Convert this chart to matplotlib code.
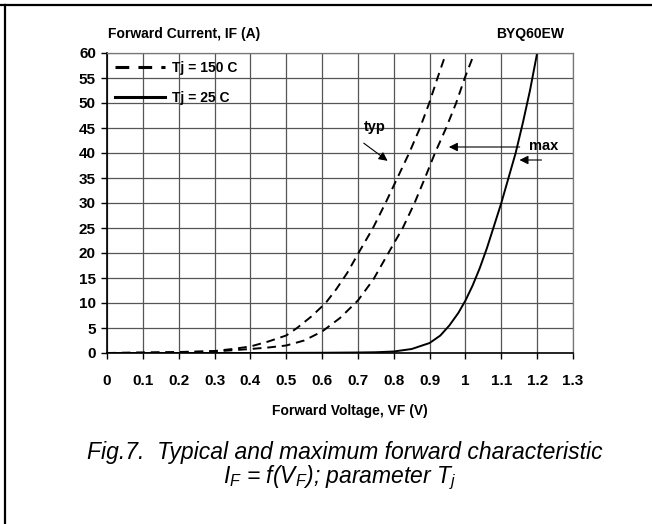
import numpy as np
import matplotlib
matplotlib.use('Agg')
import matplotlib.pyplot as plt
from matplotlib.lines import Line2D

plt.rcParams['font.family'] = ['Liberation Sans', 'DejaVu Sans']
plt.rcParams['mathtext.fontset'] = 'custom'
plt.rcParams['mathtext.it'] = 'Liberation Sans:italic'
plt.rcParams['mathtext.rm'] = 'Liberation Sans:italic'

# Tj = 150 C, typical
vf_typ150 = [0, 0.1, 0.2, 0.3, 0.35, 0.4, 0.45, 0.5, 0.53, 0.57, 0.61, 0.64, 0.67,
             0.70, 0.742, 0.777, 0.810, 0.843, 0.873, 0.899, 0.922, 0.946]
if_typ150 = [0, 0.1, 0.2, 0.4, 0.8, 1.3, 2.3, 3.5, 5, 7.3, 10, 12.8, 16,
             19.8, 25, 30, 35, 40, 45, 50, 55, 60]
# Tj = 150 C, maximum
vf_max150 = [0, 0.1, 0.2, 0.3, 0.4, 0.45, 0.5, 0.55, 0.6, 0.65, 0.7, 0.743,
             0.785, 0.825, 0.858, 0.887, 0.915, 0.946, 0.974, 0.998, 1.025]
if_max150 = [0, 0.05, 0.1, 0.3, 0.8, 1.1, 1.5, 2.5, 4.3, 7, 10.5, 14.7,
             20, 25, 30, 35, 40, 45, 50, 55, 60]
# Tj = 25 C
vf_25 = [0, 0.2, 0.4, 0.6, 0.7, 0.75, 0.8, 0.85, 0.9, 0.93, 0.955, 0.98, 1.0,
         1.02, 1.04, 1.06, 1.08, 1.10, 1.12, 1.14, 1.16, 1.18, 1.2]
if_25 = [0, 0, 0, 0.05, 0.1, 0.15, 0.3, 0.8, 2, 3.5, 5.5, 8, 10.5,
         13.5, 17, 21, 25.5, 30, 35, 40, 46, 52.5, 60]

x_ticks = [0, 0.1, 0.2, 0.3, 0.4, 0.5, 0.6, 0.7, 0.8, 0.9, 1, 1.1, 1.2, 1.3]
x_labels = ['0', '0.1', '0.2', '0.3', '0.4', '0.5', '0.6', '0.7', '0.8', '0.9',
            '1', '1.1', '1.2', '1.3']
y_ticks = list(range(0, 61, 5))

W, H = 652, 524
fig = plt.figure(figsize=(W / 100, H / 100), dpi=100)
ax = fig.add_axes([107 / W, 1 - 353 / H, (573 - 107) / W, 300 / H])

ax.plot(vf_typ150, if_typ150, color='black', lw=1.4, dashes=(4.5, 3), label='Tj = 150 C')
ax.plot(vf_max150, if_max150, color='black', lw=1.4, dashes=(4.5, 3))
ax.plot(vf_25, if_25, color='black', lw=1.4, label='Tj = 25 C')

ax.set_xlim(0, 1.3)
ax.set_ylim(0, 60)
ax.set_xticks(x_ticks)
ax.set_xticklabels(x_labels)
ax.set_yticks(y_ticks)
ax.grid(True, color='#555555', lw=0.9)
ax.set_axisbelow(True)
for lab in ax.get_xticklabels() + ax.get_yticklabels():
    lab.set_fontweight('bold')
    lab.set_fontsize(11)
ax.tick_params(axis='x', length=4, width=1, pad=11)
ax.tick_params(axis='y', length=4, width=1, pad=4)
for s in ['left', 'bottom']:
    ax.spines[s].set_linewidth(1.2)
for s in ['top', 'right']:
    ax.spines[s].set_color('#777777')
    ax.spines[s].set_linewidth(0.9)

leg = ax.legend(loc='upper left', bbox_to_anchor=(0, 1), frameon=False,
                handlelength=3.6, labelspacing=1.1, handletextpad=0.5,
                borderaxespad=0.2, prop={'weight': 'bold', 'size': 10})
for ln in leg.get_lines():
    ln.set_linewidth(2.2)

# annotations
arrow = dict(arrowstyle='-|>', color='black', lw=0.8, mutation_scale=13)
ax.text(0.747, 45.2, 'typ', ha='center', va='center', fontsize=10.5, fontweight='bold')
ax.annotate('', xy=(0.789, 38.1), xytext=(0.710, 42.3), arrowprops=arrow)
ax.text(1.219, 41.4, 'max', ha='center', va='center', fontsize=10.5, fontweight='bold')
ax.annotate('', xy=(0.946, 41.2), xytext=(1.159, 41.2), arrowprops=arrow)
ax.annotate('', xy=(1.143, 38.6), xytext=(1.22, 38.6), arrowprops=arrow)

fig.text(108 / W, 1 - 34 / H, 'Forward Current, IF (A)', ha='left', va='center',
         fontsize=10, fontweight='bold')
fig.text(530 / W, 1 - 34 / H, 'BYQ60EW', ha='center', va='center',
         fontsize=10, fontweight='bold')
fig.text(350 / W, 1 - 411 / H, 'Forward Voltage, VF (V)', ha='center', va='center',
         fontsize=10, fontweight='bold')
fig.text(345 / W, 1 - 452 / H, 'Fig.7.  Typical and maximum forward characteristic',
         ha='center', va='center', fontsize=16.5, style='italic')
fig.text(340 / W, 1 - 478 / H, r'$I_F$ = f($V_F$); parameter $T_j$',
         ha='center', va='center', fontsize=16.5, style='italic')

# page frame (top and left only)
fig.add_artist(Line2D([0, 1], [1 - 5 / H, 1 - 5 / H], transform=fig.transFigure,
                      color='black', lw=1.6))
fig.add_artist(Line2D([5 / W, 5 / W], [0, 1 - 5 / H], transform=fig.transFigure,
                      color='black', lw=1.6))

fig.savefig('out.png', dpi=100)
